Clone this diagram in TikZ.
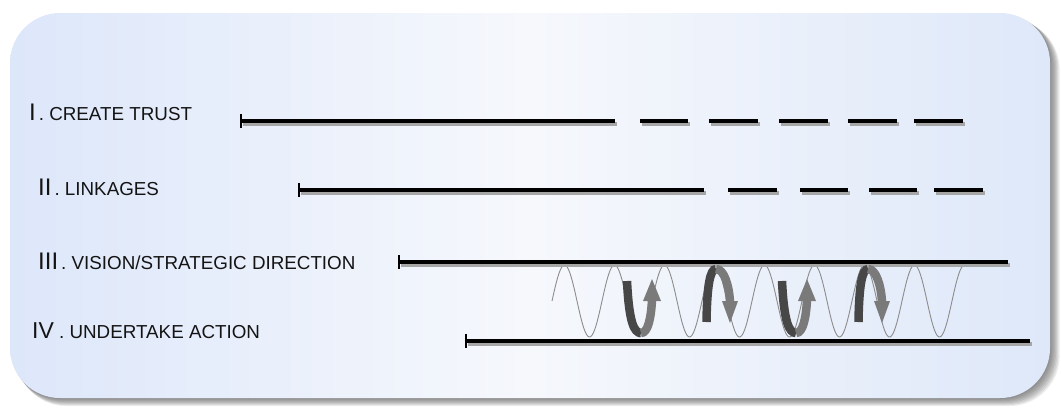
\documentclass[tikz,border=0pt]{standalone}
\usepackage{fontspec}
\setmainfont{Liberation Sans}
\definecolor{bgL}{RGB}{221,231,250}
\definecolor{bgM}{RGB}{246,248,252}
\definecolor{bgR}{RGB}{222,232,249}
\definecolor{txt}{RGB}{20,20,20}
\newcommand{\numsz}{\fontsize{24}{26}\selectfont}
\newcommand{\txtsz}{\fontsize{18.8}{20}\selectfont}
\begin{document}
\begin{tikzpicture}[x=1pt,y=-1pt,
  tl/.style={draw=black, line width=3.6pt, line cap=butt,
    preaction={draw=black!35, line width=4pt, transform canvas={xshift=1.5pt,yshift=-2.5pt}}},
  tlbar/.style={draw=black, line width=2.8pt},
  wave/.style={draw=black!45, line width=0.9pt},
  darkband/.style={draw=black!72, line width=8.5pt},
  lightband/.style={draw=black!52, line width=8.5pt},
  headfill/.style={fill=black!52},
  lbl/.style={anchor=base west, inner sep=0pt, text=txt, font=\txtsz}]
\useasboundingbox (0,0) rectangle (1062,408);
% box shadow
\foreach \d in {1,2,3,4,5,6,7,8}
  \fill[black!75, opacity=0.10, rounded corners=50pt] (10+\d*0.8,13+\d*0.8) rectangle (1050+\d*1.2,398+\d*1.0);
% box
\shade[rounded corners=50pt, left color=bgL, right color=bgR, middle color=bgM] (10,13) rectangle (1050,398);
% labels
\node[lbl] (l1) at (29,120) {{\numsz I}\kern3pt. CREATE TRUST};
\node[lbl] (l2) at (38,195) {{\numsz II}\kern3pt. LINKAGES};
\node[lbl] (l3) at (38,269) {{\numsz III}\kern3pt. VISION/STRATEGIC DIRECTION};
\node[lbl] (l4) at (32,338) {{\fontsize{23}{25}\selectfont IV} . UNDERTAKE ACTION};
% wave
\draw[wave] plot[domain=552:963, samples=300] (\x,{301-36*sin((\x-552)*7.2)});
% timeline I
\coordinate (a0) at (241,121); \coordinate (a1) at (615,121);
\draw[tl] (a0) -- (a1);
\foreach \s/\e in {640/688,709/758,779/828,848/897,914/963}
  \draw[tl] (\s,121) -- (\e,121);
\draw[tlbar] ([yshift=7pt]a0) -- ([yshift=-7pt]a0);
% timeline II
\coordinate (b0) at (299,190); \coordinate (b1) at (704,190);
\draw[tl] (b0) -- (b1);
\foreach \s/\e in {728/777,800/848,869/917,934/983}
  \draw[tl] (\s,190) -- (\e,190);
\draw[tlbar] ([yshift=7pt]b0) -- ([yshift=-7pt]b0);
% timeline III
\coordinate (c0) at (399,262); \coordinate (c1) at (1008,262);
\draw[tl] (c0) -- (c1);
\draw[tlbar] ([yshift=7pt]c0) -- ([yshift=-7pt]c0);
% timeline IV
\coordinate (d0) at (466,341); \coordinate (d1) at (1030,341);
\draw[tl] (d0) -- (d1);
\draw[tlbar] ([yshift=7pt]d0) -- ([yshift=-7pt]d0);
% arrows (U shape, pointing up)
\foreach \sx in {0,155}{
  \begin{scope}[xshift=\sx pt]
  \draw[darkband] (627,281) .. controls (629,322) and (634,333) .. (641,333);
  \draw[lightband] (641,333) .. controls (648,333) and (651,318) .. (652,300);
  \fill[headfill] (643,301) -- (661,301) -- (652,279) -- cycle;
  \end{scope}}
% arrows (cap shape, pointing down)
\foreach \sx in {0,152}{
  \begin{scope}[xshift=\sx pt]
  \draw[darkband] (706.5,322) .. controls (707,286) and (710,269) .. (716,269);
  \draw[lightband] (716,269) .. controls (724,269) and (729,285) .. (730,302);
  \fill[headfill] (722,301) -- (738,301) -- (730,323) -- cycle;
  \end{scope}}
\end{tikzpicture}
\end{document}
